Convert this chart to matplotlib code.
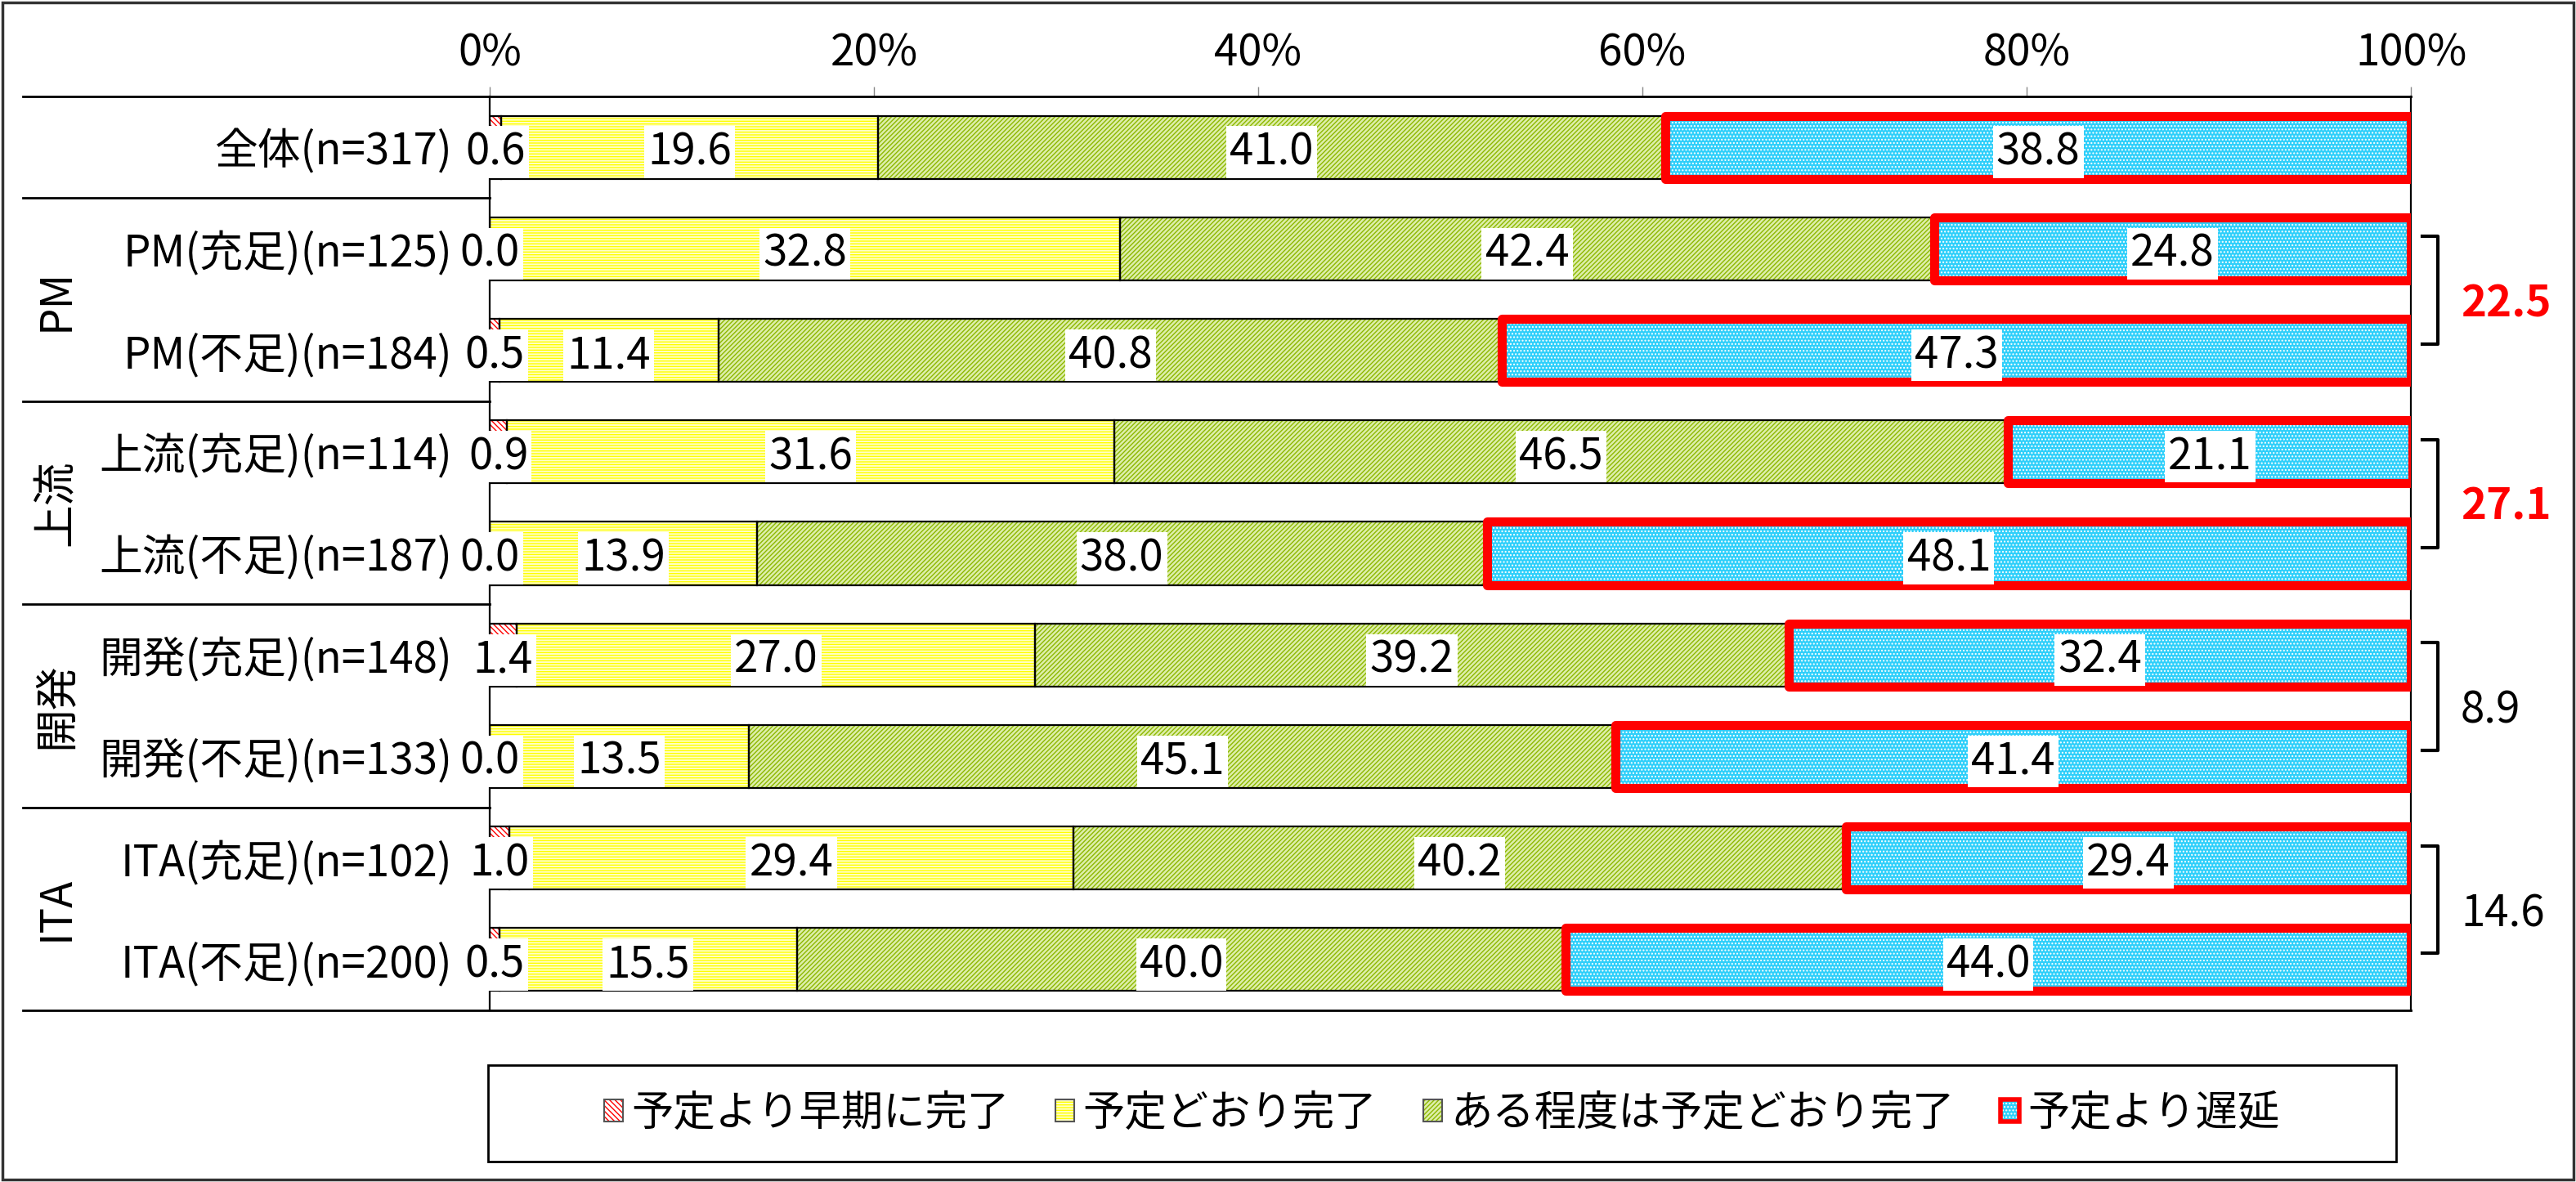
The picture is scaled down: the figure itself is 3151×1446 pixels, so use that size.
import matplotlib
matplotlib.use('Agg')
import matplotlib.pyplot as plt
import matplotlib.transforms as mtrans
from matplotlib.patches import Rectangle, Patch
import numpy as np

plt.rcParams['font.family'] = ['Noto Sans CJK JP', 'DejaVu Sans']
plt.rcParams['hatch.linewidth'] = 1.0

# ---------------- data ----------------
categories = ['全体(n=317)', 'PM(充足)(n=125)', 'PM(不足)(n=184)',
              '上流(充足)(n=114)', '上流(不足)(n=187)',
              '開発(充足)(n=148)', '開発(不足)(n=133)',
              'ITA(充足)(n=102)', 'ITA(不足)(n=200)']
series_names = ['予定より早期に完了', '予定どおり完了', 'ある程度は予定どおり完了', '予定より遅延']
early = [0.6, 0.0, 0.5, 0.9, 0.0, 1.4, 0.0, 1.0, 0.5]
ontime = [19.6, 32.8, 11.4, 31.6, 13.9, 27.0, 13.5, 29.4, 15.5]
somewhat = [41.0, 42.4, 40.8, 46.5, 38.0, 39.2, 45.1, 40.2, 40.0]
delay = [38.8, 24.8, 47.3, 21.1, 48.1, 32.4, 41.4, 29.4, 44.0]
groups = ['PM', '上流', '開発', 'ITA']
group_rows = [(1, 2), (3, 4), (5, 6), (7, 8)]
diff_values = [22.5, 27.1, 8.9, 14.6]
diff_highlight = [True, True, False, False]
xticks = [0, 20, 40, 60, 80, 100]
xticklabels = ['0%', '20%', '40%', '60%', '80%', '100%']

# ---------------- styles ----------------
FS = 38
styles = [
    dict(fc='white', hc='#FF0000', hatch='\\\\\\\\\\'),
    dict(fc='#FFFFC8', hc='#FFFF00', hatch='-----'),
    dict(fc='#DDEEAA', hc='#8DB800', hatch='//////'),
    dict(fc='#2ECFFA', hc='white', hatch='....'),
]

W, H = 3151, 1446
fig = plt.figure(figsize=(W / 100, H / 100), dpi=100)
x0, x1, ytop, ybot = 599, 2949, 118, 1236
ax = fig.add_axes([x0 / W, 1 - ybot / H, (x1 - x0) / W, (ybot - ytop) / H])

y = np.arange(len(categories))
data = [early, ontime, somewhat, delay]
left = np.zeros(len(categories))
bh = 0.62
for k, vals in enumerate(data):
    st = styles[k]
    vals = np.array(vals)
    ax.barh(y, vals, left=left, height=bh, color=st['fc'], edgecolor=st['hc'],
            hatch=st['hatch'], linewidth=0, zorder=2)
    if k < 3:
        ax.barh(y, vals, left=left, height=bh, fill=False, edgecolor='black',
                linewidth=1.6, zorder=3)
    else:
        outl = ax.barh(y, vals, left=left, height=bh, fill=False, edgecolor='#FF0000',
                       linewidth=8, zorder=4)
        for p in outl:
            p.set_joinstyle('round')
    for i, v in enumerate(vals):
        ax.text(left[i] + v / 2, i, f'{v:.1f}', ha='center', va='center_baseline',
                fontsize=FS, zorder=6,
                bbox=dict(boxstyle='square,pad=0.08', fc='white', ec='none'))
    left = left + vals

ax.set_xlim(0, 100)
ax.set_ylim(len(categories) - 0.5, -0.5)
ax.set_yticks(y)
ax.set_yticklabels(categories)
ax.set_xticks(xticks)
ax.set_xticklabels(xticklabels)
ax.tick_params(axis='x', top=True, bottom=False, labeltop=True, labelbottom=False,
               length=8.6, width=1, color='#888888', pad=10, labelsize=FS)
ax.tick_params(axis='y', length=0, pad=33, labelsize=FS)
for s in ['top', 'bottom']:
    ax.spines[s].set_visible(False)
for s in ['left', 'right']:
    ax.spines[s].set_linewidth(1.6)
    ax.spines[s].set_color('black')

trans = mtrans.blended_transform_factory(ax.transAxes, ax.transData)
lx = (28 - x0) / (x1 - x0)
for yb in [-0.5, len(categories) - 0.5]:
    ax.plot([lx, 1], [yb, yb], transform=trans, color='black', lw=2, clip_on=False, zorder=5)
for (a, b) in group_rows:
    ax.plot([lx, 0], [a - 0.5, a - 0.5], transform=trans, color='black', lw=2,
            clip_on=False, zorder=5)

gx = (68 - x0) / (x1 - x0)
for g, (a, b) in zip(groups, group_rows):
    ax.text(gx, (a + b) / 2, g, rotation=90, ha='center', va='center',
            fontsize=FS, transform=trans)

# brackets
bx0 = (2963 - x0) / (x1 - x0)
bx1 = (2982 - x0) / (x1 - x0)
tx = (3010 - x0) / (x1 - x0)
for (a, b), v, hl in zip(group_rows, diff_values, diff_highlight):
    yt, yb2 = a - 0.12, b - 0.06
    ax.plot([bx0, bx1, bx1, bx0], [yt, yt, yb2, yb2], transform=trans, color='black',
            lw=3, clip_on=False, solid_joinstyle='round')
    ax.text(tx, (a + b) / 2, f'{v:.1f}', transform=trans, ha='left', va='center_baseline',
            fontsize=FS, color='#FF0000' if hl else 'black',
            fontweight='bold' if hl else 'normal')

# legend
handles = []
for k, st in enumerate(styles):
    inner = Patch(facecolor=st['fc'], edgecolor=st['hc'], hatch=st['hatch'], linewidth=0)
    if k < 3:
        outer = Patch(fill=False, edgecolor='#555555', linewidth=1.5)
    else:
        outer = Patch(fill=False, edgecolor='#FF0000', linewidth=4)
    handles.append((inner, outer))
fig.legend(handles, series_names, loc='center',
           bbox_to_anchor=((597 + 2931) / 2 / W, 1 - 1362 / H), ncol=4, frameon=False,
           fontsize=37, handlelength=0.45, handleheight=0.45, handletextpad=0.2,
           columnspacing=1.1)
fig.add_artist(Rectangle((597 / W, 1 - 1421 / H), (2931 - 597) / W, (1421 - 1303) / H,
                         transform=fig.transFigure, fill=False, ec='black', lw=2))
fig.add_artist(Rectangle((0.001, 0.002), 0.998, 0.996, transform=fig.transFigure,
                         fill=False, ec='#333333', lw=2.5))

fig.savefig('out.png', dpi=100, facecolor='white')
